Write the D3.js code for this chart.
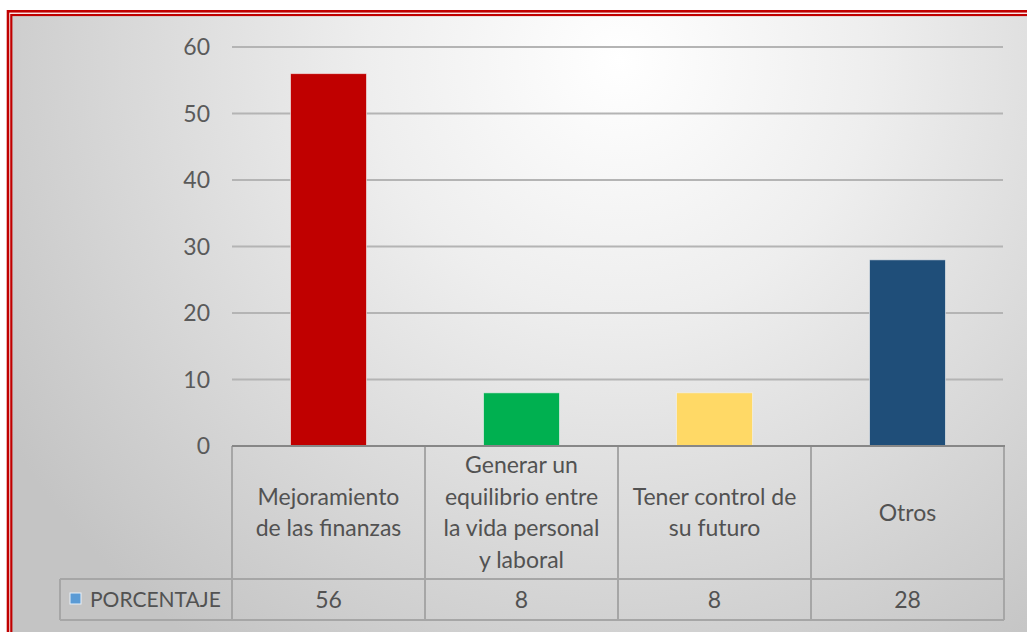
<!DOCTYPE html>
<html>
<head>
<meta charset="utf-8">
<script src="https://cdn.jsdelivr.net/npm/d3@7"></script>
<style>
  html, body { margin: 0; padding: 0; background: #ffffff; overflow: hidden; }
  svg { display: block; }
  text { font-family: Lato, "Open Sans", sans-serif; }
</style>
</head>
<body>
<svg id="chart" width="1027" height="632"></svg>
<script>
// ---- data ----
const categories = [
  "Mejoramiento de las finanzas",
  "Generar un equilibrio entre la vida personal y laboral",
  "Tener control de su futuro",
  "Otros"
];
const categoryLines = [
  ["Mejoramiento", "de las finanzas"],
  ["Generar un", "equilibrio entre", "la vida personal", "y laboral"],
  ["Tener control de", "su futuro"],
  ["Otros"]
];
const values = [56, 8, 8, 28];
const barColors = ["#c00000", "#00b050", "#ffd966", "#1f4e79"];
const yTicks = [0, 10, 20, 30, 40, 50, 60];
const seriesName = "PORCENTAJE";

// ---- layout ----
const W = 1027, H = 632;
const plotL = 232, plotR = 1004, plotT = 47, plotB = 446;
const catRowB = 579, valRowB = 620, legendL = 60;
const fs = 23;
const textColor = "#525252";

const svg = d3.select("#chart");
const defs = svg.append("defs");
const grad = defs.append("radialGradient").attr("id", "bg")
  .attr("gradientUnits", "userSpaceOnUse")
  .attr("cx", 620).attr("cy", 60).attr("r", 720);
grad.append("stop").attr("offset", "0%").attr("stop-color", "#ffffff");
grad.append("stop").attr("offset", "35%").attr("stop-color", "#eeeeee");
grad.append("stop").attr("offset", "100%").attr("stop-color", "#c4c4c4");

// background + double red border
svg.append("rect").attr("x", 12).attr("y", 16).attr("width", W).attr("height", H)
  .attr("fill", "url(#bg)");
svg.append("rect").attr("x", 8).attr("y", 11.3).attr("width", 1200).attr("height", 800)
  .attr("fill", "none").attr("stroke", "#c00000").attr("stroke-width", 2.6);
svg.append("rect").attr("x", 11.3).attr("y", 15).attr("width", 1200).attr("height", 800)
  .attr("fill", "none").attr("stroke", "#c00000").attr("stroke-width", 2.2);

// ---- scales ----
const y = d3.scaleLinear().domain([0, 60]).range([plotB, plotT]);
const col = d3.scaleBand().domain(categories).range([plotL, plotR]).padding(0);
const pIn = 1 - 76 / col.step();
const x = d3.scaleBand().domain(categories).range([plotL, plotR])
  .paddingInner(pIn).paddingOuter(pIn / 2);

// gridlines
svg.append("g").selectAll("line").data(yTicks.filter(d => d > 0)).join("line")
  .attr("x1", plotL).attr("x2", plotR - 1)
  .attr("y1", d => y(d)).attr("y2", d => y(d))
  .attr("stroke", "#b4b4b4").attr("stroke-width", 2);

// y tick labels via axis
const yAxis = svg.append("g").attr("transform", `translate(${plotL - 22},0)`)
  .call(d3.axisLeft(y).tickValues(yTicks).tickSize(0).tickPadding(0));
yAxis.select(".domain").remove();
yAxis.selectAll("text").attr("font-size", fs).attr("fill", "#5a5a5a")
  .attr("font-family", "Lato, sans-serif").attr("dy", "0.34em");

// bars
svg.append("g").selectAll("rect").data(values).join("rect")
  .attr("x", (d, i) => x(categories[i]))
  .attr("y", d => y(d))
  .attr("width", x.bandwidth())
  .attr("height", d => y(0) - y(d))
  .attr("fill", (d, i) => barColors[i])
  .attr("stroke", "#f4f4f4").attr("stroke-opacity", 0.6).attr("stroke-width", 1);

// data table
const tg = svg.append("g");
const lineColor = "#a6a6a6";
const colEdges = categories.map(c => col(c)).concat([plotR]);
tg.selectAll("line.v").data(colEdges).join("line").attr("class", "v")
  .attr("x1", d => d).attr("x2", d => d)
  .attr("y1", plotB).attr("y2", valRowB)
  .attr("stroke", lineColor).attr("stroke-width", 2);
tg.append("line").attr("x1", legendL).attr("x2", legendL).attr("y1", catRowB).attr("y2", valRowB)
  .attr("stroke", lineColor).attr("stroke-width", 2);
tg.append("line").attr("x1", legendL).attr("x2", plotR).attr("y1", catRowB).attr("y2", catRowB)
  .attr("stroke", lineColor).attr("stroke-width", 2);
tg.append("line").attr("x1", legendL).attr("x2", plotR).attr("y1", valRowB).attr("y2", valRowB)
  .attr("stroke", lineColor).attr("stroke-width", 2);
svg.append("line").attr("x1", plotL).attr("x2", plotR + 1).attr("y1", plotB).attr("y2", plotB)
  .attr("stroke", "#878787").attr("stroke-width", 2.2);

// category labels
const lh = 31.5;
const catMid = (plotB + catRowB) / 2;
categories.forEach((c, i) => {
  const lines = categoryLines[i];
  const cx = col(c) + col.bandwidth() / 2;
  const startY = catMid - (lines.length - 1) * lh / 2;
  const t = tg.append("text").attr("text-anchor", "middle")
    .attr("font-size", fs).attr("fill", textColor);
  lines.forEach((ln, j) => {
    t.append("tspan").attr("x", cx).attr("y", startY + j * lh).attr("dy", "0.35em").text(ln);
  });
});

// values row
const valMid = (catRowB + valRowB) / 2;
tg.selectAll("text.val").data(values).join("text").attr("class", "val")
  .attr("x", (d, i) => col(categories[i]) + col.bandwidth() / 2)
  .attr("y", valMid).attr("dy", "0.36em").attr("text-anchor", "middle")
  .attr("font-size", fs).attr("fill", textColor).text(d => d);

// legend key
tg.append("rect").attr("x", 70).attr("y", 593).attr("width", 11).attr("height", 11)
  .attr("fill", "#5b9bd5").attr("stroke", "#e8f0f8").attr("stroke-width", 1);
tg.append("text").attr("x", 90).attr("y", valMid).attr("dy", "0.36em")
  .attr("font-size", 21).attr("fill", textColor).text(seriesName);
</script>
</body>
</html>
